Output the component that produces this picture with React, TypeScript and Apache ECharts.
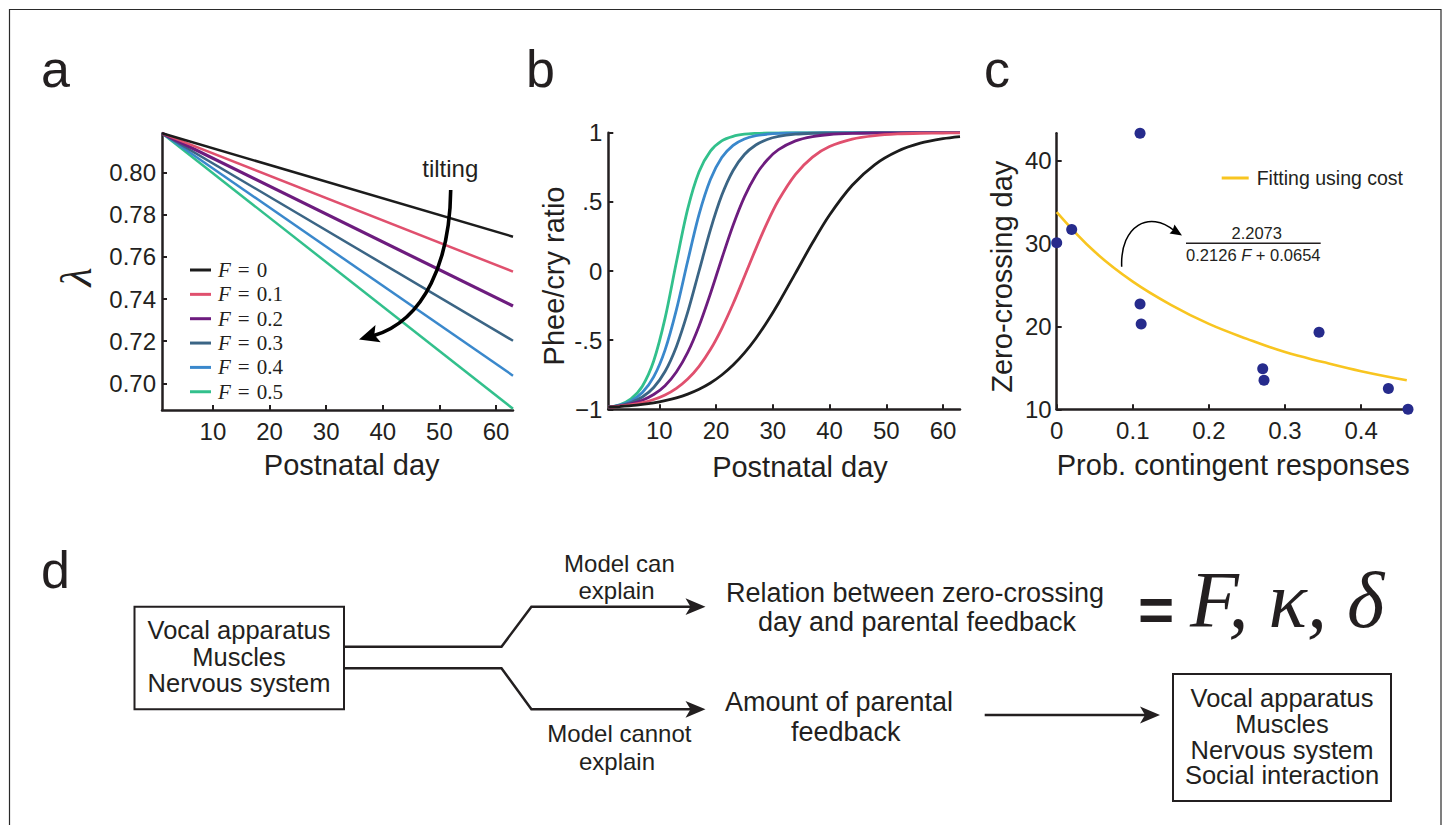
import React, { useEffect, useRef } from "react";
import * as echarts from "echarts";

// ---------- data ----------
const F_NAMES = ["F = 0", "F = 0.1", "F = 0.2", "F = 0.3", "F = 0.4", "F = 0.5"];
const F_COLORS = ["#1c1c1c", "#e0506e", "#6d1c7e", "#3b6585", "#3a88cc", "#32c08c"];

// panel a: lambda vs postnatal day (straight lines)
const LAMBDA_DAYS = [1, 63];
const LAMBDA_F0 = [0.8187, 0.7696];
const LAMBDA_F01 = [0.8187, 0.753];
const LAMBDA_F02 = [0.8187, 0.7367];
const LAMBDA_F03 = [0.8187, 0.7202];
const LAMBDA_F04 = [0.8187, 0.7036];
const LAMBDA_F05 = [0.8187, 0.6879];

// panel b: phee/cry ratio vs postnatal day
const RATIO_DAYS = [1, 3, 5, 7, 9, 11, 13, 15, 17, 19, 21, 23, 25, 27, 29, 31, 34, 37, 40, 44, 48, 52, 56, 60, 63];
const RATIO_F0 = [-0.985, -0.98, -0.974, -0.965, -0.953, -0.937, -0.917, -0.89, -0.855, -0.81, -0.752, -0.68, -0.592, -0.488, -0.367, -0.233, -0.015, 0.204, 0.405, 0.62, 0.77, 0.866, 0.924, 0.957, 0.972];
const RATIO_F01 = [-0.985, -0.978, -0.967, -0.952, -0.929, -0.896, -0.848, -0.781, -0.689, -0.568, -0.416, -0.237, -0.04, 0.16, 0.348, 0.511, 0.699, 0.824, 0.9, 0.954, 0.979, 0.991, 0.996, 0.998, 0.999];
const RATIO_F02 = [-0.985, -0.976, -0.96, -0.934, -0.893, -0.829, -0.73, -0.588, -0.397, -0.164, 0.089, 0.331, 0.536, 0.693, 0.803, 0.877, 0.941, 0.972, 0.987, 0.995, 0.998, 0.999, 1, 1, 1];
const RATIO_F03 = [-0.985, -0.973, -0.951, -0.911, -0.842, -0.727, -0.547, -0.298, 0, 0.298, 0.547, 0.727, 0.842, 0.911, 0.951, 0.973, 0.989, 0.996, 0.998, 0.999, 1, 1, 1, 1, 1];
const RATIO_F04 = [-0.985, -0.97, -0.939, -0.879, -0.766, -0.572, -0.281, 0.072, 0.409, 0.661, 0.82, 0.908, 0.954, 0.978, 0.989, 0.995, 0.998, 0.999, 1, 1, 1, 1, 1, 1, 1];
const RATIO_F05 = [-0.985, -0.967, -0.924, -0.833, -0.651, -0.343, 0.063, 0.449, 0.718, 0.867, 0.941, 0.974, 0.989, 0.995, 0.998, 0.999, 1, 1, 1, 1, 1, 1, 1, 1, 1];

// panel c: zero-crossing day vs prob. contingent responses
const PROB_CONTINGENT = [0, 0.0197, 0.1095, 0.1095, 0.111, 0.2707, 0.2724, 0.3447, 0.4358, 0.4616];
const ZERO_CROSSING_DAY = [30.1, 31.7, 43.3, 22.7, 20.3, 14.9, 13.5, 19.3, 12.5, 10.0];
const FIT_PROB = [0, 0.05, 0.1, 0.15, 0.2, 0.25, 0.3, 0.35, 0.4, 0.46];
const FIT_DAY = [33.8, 29.0, 25.4, 22.6, 20.3, 18.5, 16.9, 15.7, 14.6, 13.5];

// ticks
const DAY_TICKS = [10, 20, 30, 40, 50, 60];
const LAMBDA_TICKS = [0.7, 0.72, 0.74, 0.76, 0.78, 0.8];
const RATIO_TICKS = [-1, -0.5, 0, 0.5, 1];
const RATIO_TICK_LABELS = ["\u22121", "-.5", "0", ".5", "1"];
const PROB_TICKS = [0, 0.1, 0.2, 0.3, 0.4];
const ZERO_DAY_TICKS = [10, 20, 30, 40];

const LAMBDA_SERIES = [LAMBDA_F0, LAMBDA_F01, LAMBDA_F02, LAMBDA_F03, LAMBDA_F04, LAMBDA_F05];
const RATIO_SERIES = [RATIO_F0, RATIO_F01, RATIO_F02, RATIO_F03, RATIO_F04, RATIO_F05];

// ---------- styling ----------
const SANS = '"Liberation Sans", Arial, Helvetica, sans-serif';
const SERIF = '"Liberation Serif", "Times New Roman", serif';
const INK = "#231f20";

const zip = (xs: number[], ys: number[]) => xs.map((x, i) => [x, ys[i]]);

function valueAxis(gridIndex: number, min: number, max: number, ticks: number[], formatter: (v: number) => string, margin: number) {
  return {
    type: "value",
    gridIndex,
    min,
    max,
    axisLine: { show: true, onZero: false, lineStyle: { color: INK, width: 2.5 } },
    axisTick: { show: true, inside: true, length: 5, customValues: ticks, lineStyle: { color: INK, width: 2 } },
    axisLabel: {
      show: true,
      customValues: ticks,
      formatter,
      color: INK,
      fontSize: 24,
      fontFamily: SANS,
      margin,
    },
    splitLine: { show: false },
  };
}

function txt(text: string, x: number, y: number, size: number, o: any = {}) {
  const align = o.align || "center";
  return {
    type: "text",
    x,
    y,
    rotation: o.rot || 0,
    z: 100,
    style: {
      text,
      fill: INK,
      fontSize: size,
      fontFamily: o.family || SANS,
      fontStyle: o.italic ? "italic" : "normal",
      fontWeight: o.bold ? "bold" : "normal",
      textAlign: align,
      textVerticalAlign: "middle",
      align,
      verticalAlign: "middle",
      rich: o.rich,
    },
  };
}

function line(x1: number, y1: number, x2: number, y2: number, w = 2.5) {
  return { type: "line", z: 100, shape: { x1, y1, x2, y2 }, style: { stroke: INK, lineWidth: w } };
}

function poly(points: number[][], w = 2.5) {
  return { type: "polyline", z: 100, shape: { points }, style: { stroke: INK, lineWidth: w, fill: "none", lineJoin: "miter" } };
}

function head(points: number[][], color = INK) {
  return { type: "polygon", z: 101, shape: { points }, style: { fill: color, stroke: "none" } };
}

function box(x: number, y: number, width: number, height: number) {
  return { type: "rect", z: 100, shape: { x, y, width, height }, style: { fill: "none", stroke: INK, lineWidth: 2 } };
}

function buildOption() {
  const series: any[] = [];
  LAMBDA_SERIES.forEach((vals, i) => {
    series.push({
      type: "line",
      name: F_NAMES[i],
      xAxisIndex: 0,
      yAxisIndex: 0,
      data: zip(LAMBDA_DAYS, vals),
      showSymbol: false,
      symbol: "none",
      clip: false,
      color: F_COLORS[i],
      lineStyle: { color: F_COLORS[i], width: i === 2 ? 3.2 : 2.5 },
      itemStyle: { color: F_COLORS[i] },
      z: 10 - i,
    });
  });
  RATIO_SERIES.forEach((vals, i) => {
    series.push({
      type: "line",
      name: F_NAMES[i],
      xAxisIndex: 1,
      yAxisIndex: 1,
      data: zip(RATIO_DAYS, vals),
      showSymbol: false,
      symbol: "none",
      smooth: 0.3,
      color: F_COLORS[i],
      lineStyle: { color: F_COLORS[i], width: 2.8 },
      itemStyle: { color: F_COLORS[i] },
      z: 10 - i,
    });
  });
  series.push({
    type: "line",
    name: "Fitting using cost",
    xAxisIndex: 2,
    yAxisIndex: 2,
    data: zip(FIT_PROB, FIT_DAY),
    showSymbol: false,
    symbol: "none",
    smooth: 0.4,
    color: "#f8c520",
    lineStyle: { color: "#f8c520", width: 2.6 },
    itemStyle: { color: "#f8c520" },
    z: 5,
  });
  series.push({
    type: "scatter",
    name: "Observed",
    xAxisIndex: 2,
    yAxisIndex: 2,
    data: zip(PROB_CONTINGENT, ZERO_CROSSING_DAY),
    symbol: "circle",
    symbolSize: 11,
    clip: false,
    itemStyle: { color: "#262b8c", opacity: 1 },
    z: 6,
  });

  const graphics: any[] = [
    // frame
    { type: "rect", z: 90, shape: { x: 9.5, y: 9.5, width: 1431.5, height: 840 }, style: { fill: "none", stroke: "#2a2a2a", lineWidth: 1.2 } },
    // panel letters
    txt("a", 41, 69, 52, { align: "left" }),
    txt("b", 526, 69, 52, { align: "left" }),
    txt("c", 984, 69, 52, { align: "left" }),
    txt("d", 41, 570, 52, { align: "left" }),
    // axis titles
    txt("\u03bb", 76, 277, 44, { family: SERIF, italic: true, rot: Math.PI / 2 }),
    txt("Postnatal day", 351.7, 465, 29),
    txt("Postnatal day", 800, 466.7, 29),
    txt("Phee/cry ratio", 554, 276, 29, { rot: Math.PI / 2 }),
    txt("Zero-crossing day", 1001.7, 276.7, 29, { rot: Math.PI / 2 }),
    txt("Prob. contingent responses", 1233.3, 465, 29),
    // panel a tilting arrow
    txt("tilting", 450.3, 168, 24),
    {
      type: "bezierCurve",
      z: 100,
      shape: { x1: 450.7, y1: 190, cpx1: 450, cpy1: 260, cpx2: 425, cpy2: 320, x2: 374, y2: 335.5 },
      style: { stroke: "#000", lineWidth: 3.6, fill: "none" },
    },
    head([[359, 339.5], [375.5, 325.1], [374.3, 334.8], [380.7, 342.3]], "#000"),
    // panel c formula
    txt("2.2073", 1256.7, 233.3, 16.5),
    line(1186, 243.3, 1320.7, 243.3, 1.6),
    txt("0.2126 {it|F} + 0.0654", 1253.3, 254.5, 16.5, { rich: { it: { fontStyle: "italic", fontSize: 16.5, fontFamily: SANS, fill: INK } } }),
    {
      type: "bezierCurve",
      z: 100,
      shape: { x1: 1121.7, y1: 266.7, cpx1: 1120, cpy1: 225, cpx2: 1150, cpy2: 210, x2: 1174, y2: 230.5 },
      style: { stroke: "#000", lineWidth: 1.5, fill: "none" },
    },
    head([[1182, 235.5], [1169.5, 233.5], [1172.5, 230.5], [1174.5, 224.5]], "#000"),
    // panel d left box
    box(134.5, 606.7, 209.5, 102.6),
    txt("Vocal apparatus", 239, 630, 25.5),
    txt("Muscles", 239, 656.7, 25.5),
    txt("Nervous system", 239, 683.3, 25.5),
    // branching arrows
    poly([[343.8, 646.7], [501.5, 646.7], [531.4, 606.7], [692, 606.7]]),
    head([[705.5, 606.7], [685.5, 598.3], [690.5, 606.7], [685.5, 615.1]]),
    poly([[343.8, 668.3], [501.5, 668.3], [531.4, 709.3], [692, 709.3]]),
    head([[705.5, 709.3], [685.5, 700.9], [690.5, 709.3], [685.5, 717.7]]),
    txt("Model can", 619.4, 563, 24),
    txt("explain", 616.5, 590, 24),
    txt("Model cannot", 619.4, 733.3, 24),
    txt("explain", 617, 761.7, 24),
    // texts right
    txt("Relation between zero-crossing", 915, 593, 27),
    txt("day and parental feedback", 917, 622, 27),
    txt("=", 1156, 609, 62, { bold: true }),
    txt("F, \u03ba, \u03b4", 1190, 600, 80, { family: SERIF, italic: true, align: "left" }),
    txt("Amount of parental", 839, 701.7, 27),
    txt("feedback", 845.8, 731.7, 27),
    line(984.7, 715, 1146, 715),
    head([[1160, 715], [1140, 706.6], [1145, 715], [1140, 723.4]]),
    // right box
    box(1173, 674, 218, 127),
    txt("Vocal apparatus", 1282, 698, 25.5),
    txt("Muscles", 1282, 723.8, 25.5),
    txt("Nervous system", 1282, 749.6, 25.5),
    txt("Social interaction", 1282, 775.4, 25.5),
  ];

  return {
    animation: false,
    backgroundColor: "#ffffff",
    textStyle: { fontFamily: SANS, color: INK },
    grid: [
      { left: 162, top: 133.3, width: 351, height: 276.7 },
      { left: 608.3, top: 132.7, width: 351.7, height: 276.6 },
      { left: 1056.7, top: 133.3, width: 351.6, height: 276 },
    ],
    xAxis: [
      valueAxis(0, 1, 63, DAY_TICKS, (v: number) => String(v), 9),
      valueAxis(1, 1, 63, DAY_TICKS, (v: number) => String(v), 9),
      valueAxis(2, 0, 0.462, PROB_TICKS, (v: number) => (v === 0 ? "0" : v.toFixed(1)), 9),
    ],
    yAxis: [
      valueAxis(0, 0.6873, 0.8187, LAMBDA_TICKS, (v: number) => v.toFixed(2), 6),
      valueAxis(1, -1, 1, RATIO_TICKS, (v: number) => {
        const k = RATIO_TICKS.findIndex((t) => Math.abs(t - v) < 1e-9);
        return k >= 0 ? RATIO_TICK_LABELS[k] : "";
      }, 6),
      valueAxis(2, 10, 43.3, ZERO_DAY_TICKS, (v: number) => String(v), 5),
    ],
    legend: [
      {
        data: F_NAMES,
        orient: "vertical",
        left: 185,
        top: 254,
        itemWidth: 21,
        itemHeight: 3,
        itemGap: 2.35,
        icon: "rect",
        selectedMode: false,
        formatter: (name: string) => "{it|F}{eq|=}" + name.slice(4),
        textStyle: {
          fontFamily: SERIF,
          fontSize: 21,
          lineHeight: 22,
          color: INK,
          padding: [0, 0, 0, 2],
          rich: {
            it: { fontFamily: SERIF, fontStyle: "italic", fontSize: 21, color: INK, lineHeight: 22 },
            eq: { fontFamily: SERIF, fontSize: 21, color: INK, lineHeight: 22, padding: [0, 7, 0, 7] },
          },
        },
      },
      {
        data: ["Fitting using cost"],
        left: 1216.7,
        top: 163,
        itemWidth: 27,
        itemHeight: 3,
        icon: "rect",
        selectedMode: false,
        textStyle: { fontFamily: SANS, fontSize: 19.5, lineHeight: 20, color: INK, padding: [0, 0, 0, 3] },
      },
    ],
    series,
    graphic: { elements: graphics },
  };
}

export default function App() {
  const ref = useRef<HTMLDivElement>(null);
  useEffect(() => {
    if (!ref.current) return;
    const chart = echarts.init(ref.current, null, { renderer: "svg" });
    chart.setOption(buildOption() as any);
    return () => chart.dispose();
  }, []);
  return (
    <div
      ref={ref}
      style={{ position: "fixed", left: 0, top: 0, width: 1447, height: 825, background: "#fff" }}
    />
  );
}
